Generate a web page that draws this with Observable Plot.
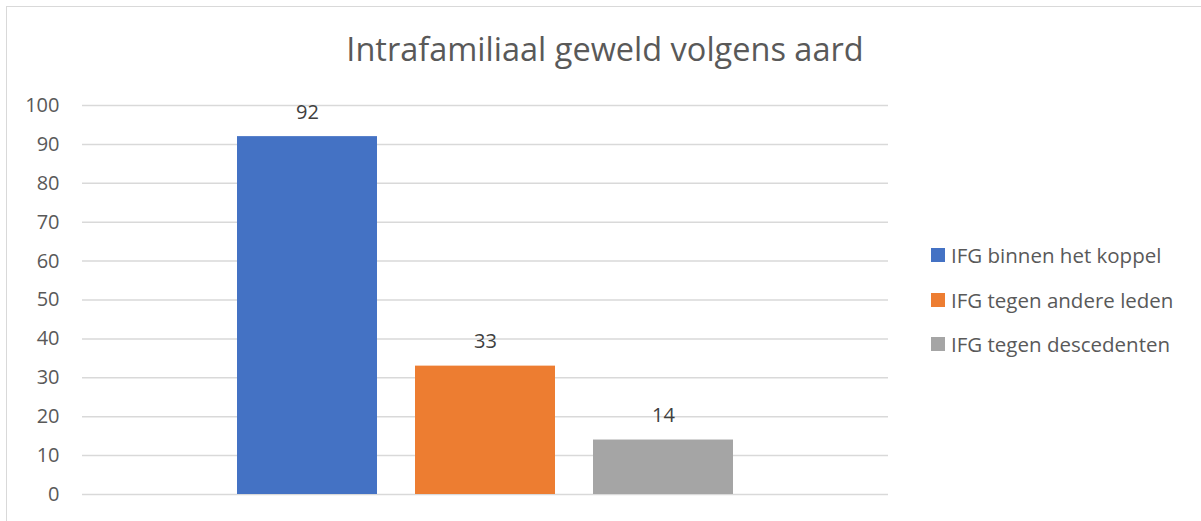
<!DOCTYPE html>
<html>
<head>
<meta charset="utf-8">
<script src="https://cdn.jsdelivr.net/npm/d3@7"></script>
<script src="https://cdn.jsdelivr.net/npm/@observablehq/plot@0.6"></script>
<style>
  html, body { margin: 0; padding: 0; background: #fff; }
  #wrap { position: relative; width: 1201px; height: 521px; overflow: hidden; font-family: "Open Sans", Lato, sans-serif; }
  #frame { position: absolute; left: 6px; top: 6px; width: 1300px; height: 600px; border-top: 1.5px solid #d9d9d9; border-left: 1.5px solid #d9d9d9; }
  #title { position: absolute; left: 0; width: 1210px; top: 29px; text-align: center; font-size: 32.5px; line-height: 40px; color: #595959; }
  #chart { position: absolute; left: 0; top: 0; }
  #legend { position: absolute; left: 931px; top: 233px; font-size: 20.5px; color: #595959; }
  .item { display: flex; align-items: center; height: 44.5px; }
  .sw { width: 14px; height: 14px; margin-right: 6px; }
</style>
</head>
<body>
<div id="wrap">
  <div id="frame"></div>
  <div id="chart"></div>
  <div id="title"></div>
  <div id="legend"></div>
</div>
<script>
const titleText = "Intrafamiliaal geweld volgens aard";
const series = ["IFG binnen het koppel", "IFG tegen andere leden", "IFG tegen descedenten"];
const values = [92, 33, 14];
const colors = ["#4472C4", "#ED7D31", "#A5A5A5"];
const yTicks = [0, 10, 20, 30, 40, 50, 60, 70, 80, 90, 100];

const data = series.map((s, i) => ({series: s, value: values[i]}));

document.getElementById("title").textContent = titleText;

const chart = Plot.plot({
  width: 1201,
  height: 521,
  marginLeft: 82,
  marginRight: 313,
  marginTop: 105,
  marginBottom: 27,
  style: {fontFamily: "'Open Sans', Lato, sans-serif", background: "transparent"},
  x: {type: "band", domain: series, range: [236, 735], paddingInner: 0.212, paddingOuter: 0, axis: null},
  y: {domain: [0, 100], ticks: yTicks},
  color: {domain: series, range: colors},
  marks: [
    Plot.gridY(yTicks, {stroke: "#d9d9d9", strokeOpacity: 1, strokeWidth: 1.5}),
    Plot.axisY(yTicks, {tickSize: 0, tickPadding: 23, fontSize: 20, fill: "#595959", label: null}),
    Plot.barY(data, {x: "series", y: "value", fill: "series"}),
    Plot.text(data, {x: "series", y: "value", text: d => String(d.value), lineAnchor: "bottom", dy: -18, fontSize: 20, fill: "#404040"})
  ]
});
document.getElementById("chart").appendChild(chart);

const legend = document.getElementById("legend");
series.forEach((s, i) => {
  const item = document.createElement("div");
  item.className = "item";
  const sw = document.createElement("div");
  sw.className = "sw";
  sw.style.background = colors[i];
  const t = document.createElement("span");
  t.textContent = s;
  item.appendChild(sw);
  item.appendChild(t);
  legend.appendChild(item);
});
</script>
</body>
</html>
